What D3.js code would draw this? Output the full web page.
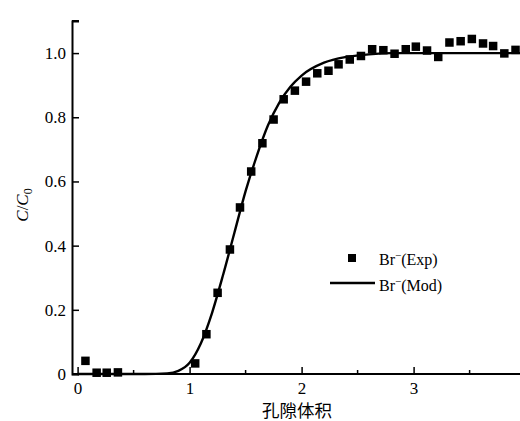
<!DOCTYPE html>
<html>
<head>
<meta charset="utf-8">
<script src="https://cdn.jsdelivr.net/npm/d3@7"></script>
<style>
  body { margin: 0; background: #fff; }
  svg text { font-family: "Liberation Serif", "DejaVu Serif", serif; fill: #000; }
</style>
</head>
<body>
<div id="chart"></div>
<script>
// experimental points (pore volume, C/C0)
var expX = [0.07, 0.17, 0.26, 0.36, 1.05, 1.15, 1.25, 1.36, 1.45, 1.55, 1.65, 1.75, 1.84, 1.94,
            2.04, 2.14, 2.24, 2.33, 2.43, 2.53, 2.63, 2.73, 2.83, 2.93, 3.02, 3.12, 3.22, 3.32,
            3.42, 3.52, 3.62, 3.71, 3.81, 3.91];
var expY = [0.041, 0.004, 0.004, 0.005, 0.033, 0.124, 0.253, 0.388, 0.519, 0.631, 0.719, 0.793, 0.856, 0.883,
            0.911, 0.937, 0.945, 0.965, 0.980, 0.991, 1.012, 1.009, 0.998, 1.012, 1.020, 1.008, 0.988, 1.033,
            1.037, 1.044, 1.030, 1.022, 0.999, 1.010];

// model curve
var modX = [0.0, 0.6, 0.8, 0.9, 1.0, 1.1, 1.2, 1.3, 1.4, 1.5, 1.6, 1.7, 1.8, 1.9, 2.0, 2.2, 2.4, 2.6, 2.8, 3.0, 4.0];
var modY = [0.0, 0.0, 0.002, 0.01, 0.035, 0.095, 0.19, 0.31, 0.44, 0.57, 0.68, 0.775, 0.845, 0.895, 0.93, 0.97, 0.988, 0.996, 1.0, 1.0, 1.0];

var xTicks = [0, 1, 2, 3];
var xMinor = [0.5, 1.5, 2.5, 3.5];
var yTicks = [0, 0.2, 0.4, 0.6, 0.8, 1.0];

var width = 520, height = 421;

var svg = d3.select("#chart").append("svg")
    .attr("width", width)
    .attr("height", height);

// set the ranges
var x = d3.scaleLinear().domain([-0.05, 3.95]).range([72, 520]);
var y = d3.scaleLinear().domain([0, 1.1]).range([374, 21]);

// model line
var line = d3.line()
    .x(function(d) { return x(d[0]); })
    .y(function(d) { return y(d[1]); })
    .curve(d3.curveMonotoneX);

svg.append("path")
    .datum(d3.zip(modX, modY))
    .attr("fill", "none")
    .attr("stroke", "#000")
    .attr("stroke-width", 2.4)
    .attr("d", line);

// experimental squares
var sq = 8.5;
svg.append("g").selectAll("rect")
    .data(d3.zip(expX, expY))
    .join("rect")
    .attr("x", function(d) { return x(d[0]) - sq / 2; })
    .attr("y", function(d) { return y(d[1]) - sq / 2; })
    .attr("width", sq)
    .attr("height", sq)
    .attr("fill", "#000");

// x axis
var gx = svg.append("g")
    .attr("transform", "translate(0," + y(0) + ")")
    .call(d3.axisBottom(x).tickValues(xTicks).tickSize(-7).tickPadding(8).tickFormat(d3.format("d")));
gx.append("g").selectAll("line")
    .data(xMinor)
    .join("line")
    .attr("x1", function(d) { return x(d); })
    .attr("x2", function(d) { return x(d); })
    .attr("y1", 0).attr("y2", -4)
    .attr("stroke", "#000").attr("stroke-width", 1.5);

// y axis
var gy = svg.append("g")
    .attr("transform", "translate(" + x.range()[0] + ",0)")
    .call(d3.axisLeft(y).tickValues(yTicks).tickSize(-7).tickPadding(6)
      .tickFormat(function(d) { return d === 0 ? "0" : d3.format(".1f")(d); }));
gy.append("line")
    .attr("x1", 0).attr("x2", 7)
    .attr("y1", y(1.1)).attr("y2", y(1.1))
    .attr("stroke", "#000").attr("stroke-width", 2);

[gx, gy].forEach(function(g) {
  g.select(".domain").attr("stroke-width", 2);
  g.selectAll(".tick line").attr("stroke-width", 1.5);
  g.selectAll(".tick text")
    .style("font-family", "'Liberation Serif', serif")
    .style("font-size", "17px");
});
gx.select(".domain").attr("d", "M" + x.range()[0] + ",0H" + width);

// axis titles
svg.append("text")
    .attr("x", 297).attr("y", 417)
    .attr("text-anchor", "middle")
    .style("font-family", "'Noto Sans CJK SC', sans-serif")
    .style("font-size", "17.5px")
    .text("孔隙体积");

var yl = svg.append("text")
    .attr("transform", "translate(28,205) rotate(-90)")
    .attr("text-anchor", "middle")
    .style("font-size", "17px");
yl.append("tspan").style("font-style", "italic").text("C");
yl.append("tspan").text("/");
yl.append("tspan").style("font-style", "italic").text("C");
yl.append("tspan").attr("dy", 4).style("font-size", "12px").text("0");

// legend
svg.append("rect")
    .attr("x", 352 - 4).attr("y", 258 - 4)
    .attr("width", 8).attr("height", 8)
    .attr("fill", "#000");
svg.append("line")
    .attr("x1", 330).attr("x2", 375)
    .attr("y1", 283).attr("y2", 283)
    .attr("stroke", "#000").attr("stroke-width", 2.4);

function legendText(yPos, label) {
  var t = svg.append("text")
      .attr("x", 379).attr("y", yPos)
      .style("font-size", "16px");
  t.append("tspan").text("Br");
  t.append("tspan").attr("dy", -6).style("font-size", "11px").text("−");
  t.append("tspan").attr("dy", 6).text(label);
}
legendText(265, "(Exp)");
legendText(291, "(Mod)");
</script>
</body>
</html>
